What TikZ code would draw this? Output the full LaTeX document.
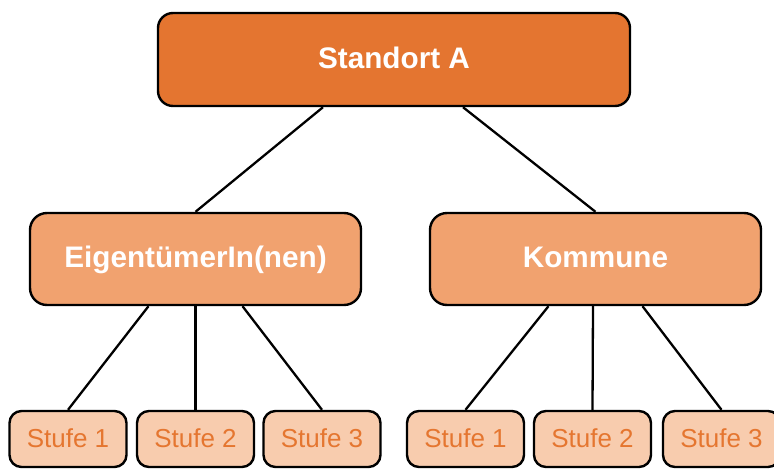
\documentclass[tikz,border=0pt]{standalone}
\usepackage{fontspec}
\setmainfont{Liberation Sans}
\definecolor{topfill}{RGB}{228,117,48}
\definecolor{midfill}{RGB}{241,162,111}
\definecolor{lowfill}{RGB}{248,204,174}
\definecolor{lowtext}{RGB}{229,118,48}
\begin{document}
\begin{tikzpicture}[x=1pt,y=-1pt,
  topbox/.style={draw=black,line width=2.4pt,fill=topfill,rounded corners=15pt,
    minimum width=472pt,minimum height=93pt,inner sep=0pt,text=white,
    text height=21.4pt,text depth=4pt,
    font=\fontsize{29.7}{34}\selectfont\bfseries},
  midbox/.style={draw=black,line width=2.4pt,fill=midfill,rounded corners=17pt,
    minimum width=331pt,minimum height=92pt,inner sep=0pt,text=white,
    text height=21.4pt,text depth=4pt,
    font=\fontsize{29.7}{34}\selectfont\bfseries},
  lowbox/.style={draw=black,line width=2.4pt,fill=lowfill,rounded corners=12pt,
    minimum width=117pt,minimum height=56pt,inner sep=0pt,text=lowtext,
    text height=18.7pt,text depth=2pt,
    font=\fontsize{26}{30}\selectfont},
  conn/.style={draw=black,line width=2.3pt}]
\useasboundingbox (0,0) rectangle (774,469);
\node[topbox] (top) at (394,59.5) {Standort A};
\node[midbox] (eig) at (195.5,259) {EigentümerIn(nen)};
\node[midbox] (kom) at (595.5,259) {Kommune};
\node[lowbox] (e1) at (68,439) {Stufe 1};
\node[lowbox] (e2) at (195.5,439) {Stufe 2};
\node[lowbox] (e3) at (322,439) {Stufe 3};
\node[lowbox] (k1) at (465.5,439) {Stufe 1};
\node[lowbox] (k2) at (592.5,439) {Stufe 2};
\node[lowbox] (k3) at (721.5,439) {Stufe 3};
\path[conn] ([xshift=-71pt]top.south) -- (eig.north);
\path[conn] ([xshift=69pt]top.south) -- (kom.north);
\path[conn] ([xshift=-47pt]eig.south) -- (e1.north);
\path[conn] (eig.south) -- (e2.north);
\path[conn] ([xshift=47pt]eig.south) -- (e3.north);
\path[conn] ([xshift=-47pt]kom.south) -- (k1.north);
\path[conn] ([xshift=-2.5pt]kom.south) -- (k2.north);
\path[conn] ([xshift=47pt]kom.south) -- (k3.north);
\end{tikzpicture}
\end{document}
